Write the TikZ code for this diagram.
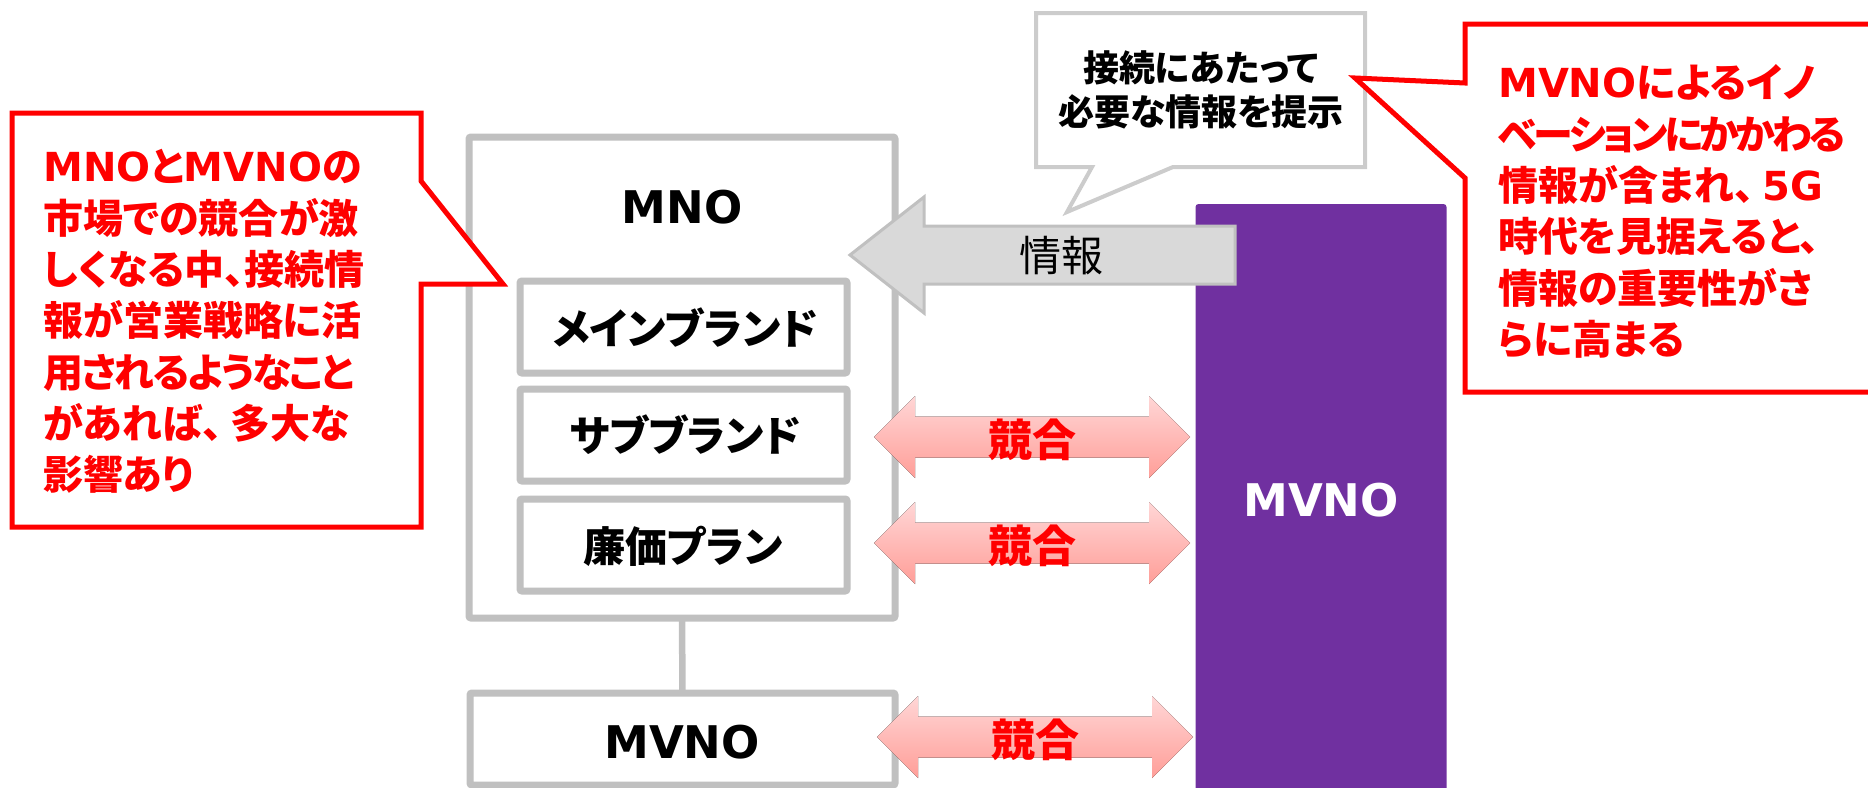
\documentclass[tikz,border=0pt]{standalone}
\usepackage{fontspec}
\setmainfont{Noto Sans CJK JP}[RawFeature=+palt]
\newfontfamily\tighta{Noto Sans CJK JP}[RawFeature=+palt, LetterSpace=-8.5]
\newfontfamily\tightb{Noto Sans CJK JP}[RawFeature=+palt, LetterSpace=-5]
\newfontfamily\lat{DejaVu Sans}
\definecolor{boxgray}{HTML}{C0C0C0}
\definecolor{callgray}{HTML}{CCCCCC}
\definecolor{arrowgray}{HTML}{D9D9D9}
\definecolor{mvnopurple}{HTML}{7030A0}
\definecolor{calred}{HTML}{FF0000}
\definecolor{pinktop}{HTML}{FFD6D6}
\definecolor{pinkbot}{HTML}{FF9E98}
\tikzset{
  gbox/.style={draw=boxgray, line width=7pt, fill=white, rounded corners=2pt, inner sep=0pt, outer sep=0pt},
  lbl/.style={font=\fontsize{42}{50}\selectfont\bfseries, text=black, inner sep=0pt},
  latlbl/.style={font=\lat\fontsize{45}{50}\selectfont\bfseries, inner sep=0pt},
  redtxt/.style={font=\fontsize{40}{51.3}\selectfont\bfseries, text=calred, align=left, inner sep=0pt, anchor=west},
  kyogo/.style={font=\fontsize{44}{50}\selectfont\bfseries, text=calred, inner sep=0pt},
  redcall/.style={draw=calred, line width=5pt, fill=white, line join=miter},
  graycall/.style={draw=callgray, line width=4pt, fill=white, line join=miter},
  pics/dblarrow/.style={code={
    \fill[top color=pinktop, bottom color=pinkbot]
      (-158,0) -- (-117,-41) -- (-117,-20.5) -- (117,-20.5) -- (117,-41) -- (158,0)
      -- (117,41) -- (117,20.5) -- (-117,20.5) -- (-117,41) -- cycle;
  }}
}
\newcommand{\la}[1]{{\lat #1}}
\begin{document}
\begin{tikzpicture}[x=1pt,y=-1pt]
\useasboundingbox (0,0) rectangle (1868,787);
\clip (0,0) rectangle (1868,787);

% purple MVNO
\node[fill=mvnopurple, rounded corners=3pt, minimum width=251pt, minimum height=620pt, inner sep=0pt, outer sep=0pt] (mvnoR) at (1321,514) {};
\node[latlbl, text=white] (mvnoRlbl) at (1321,500) {MVNO};

% MNO block
\node[gbox, minimum width=426pt, minimum height=481pt] (mno) at (682,377.5) {};
\node[latlbl, text=black] (mnolbl) at (682,207) {MNO};
\node[gbox, minimum width=327pt, minimum height=92pt] (main) at (683.5,327) {};
\node[lbl] (mainlbl) at (685,328) {メインブランド};
\node[gbox, minimum width=327pt, minimum height=92pt] (sub) at (683.5,435) {};
\node[lbl] (sublbl) at (685,435) {サブブランド};
\node[gbox, minimum width=327pt, minimum height=92pt] (cheap) at (683.5,545) {};
\node[lbl] (cheaplbl) at (683,546) {廉価プラン};

% bottom MVNO box
\node[gbox, minimum width=425pt, minimum height=92pt] (mvnoB) at (682.5,739) {};
\node[latlbl, text=black] (mvnoBlbl) at (682,742) {MVNO};
\draw[draw=boxgray, line width=6.5pt] (mno.south) -- (mvnoB.north);

% info arrow
\draw[draw=boxgray, fill=arrowgray, line width=3pt, line join=miter]
  (850,255) -- (924,197) -- (924,226) -- (1235,226) -- (1235,284) -- (924,284) -- (924,313) -- cycle;
\node[font=\fontsize{42}{50}\selectfont, inner sep=0pt] (info) at (1061,256) {情報};

% competition arrows
\pic at (1032,437) {dblarrow};
\node[kyogo] (k1) at (1032,440) {競合};
\pic at (1032,543) {dblarrow};
\node[kyogo] (k2) at (1032,546) {競合};
\pic at (1035,737) {dblarrow};
\node[kyogo] (k3) at (1035,740) {競合};

% gray callout
\draw[graycall] (1036,13) -- (1365,13) -- (1365,167) -- (1173,167) -- (1067,212) -- (1092,167) -- (1036,167) -- cycle;
\node[font=\fontsize{36}{44}\selectfont\bfseries, align=center, inner sep=0pt] (need) at (1201,90) {接続にあたって\\必要な情報を提示};

% left red callout
\draw[redcall] (12,113) -- (421,113) -- (421,181) -- (503,284) -- (421,284) -- (421,527) -- (12,527) -- cycle;
\node[redtxt] (leftnote) at (43,321.5) {\la{MNO}と\la{MVNO}の\\市場での競合が激\\しくなる中、接続情\\報が営業戦略に活\\{\tightb 用されるようなこと}\\があれば、\hspace{8pt}多大な\\影響あり};

% right red callout
\draw[redcall] (1465,24) -- (1880,24) -- (1880,392) -- (1465,392) -- (1465,178) -- (1355,78) -- (1465,83) -- cycle;
\node[redtxt] (rightnote) at (1498,211.5) {\la{MVNO}によるイノ\\{\tighta ベーションにかかわる}\\情報が含まれ、\hspace{8pt}\la{5G}\\時代を見据えると、\\情報の重要性がさ\\らに高まる};
\end{tikzpicture}
\end{document}
